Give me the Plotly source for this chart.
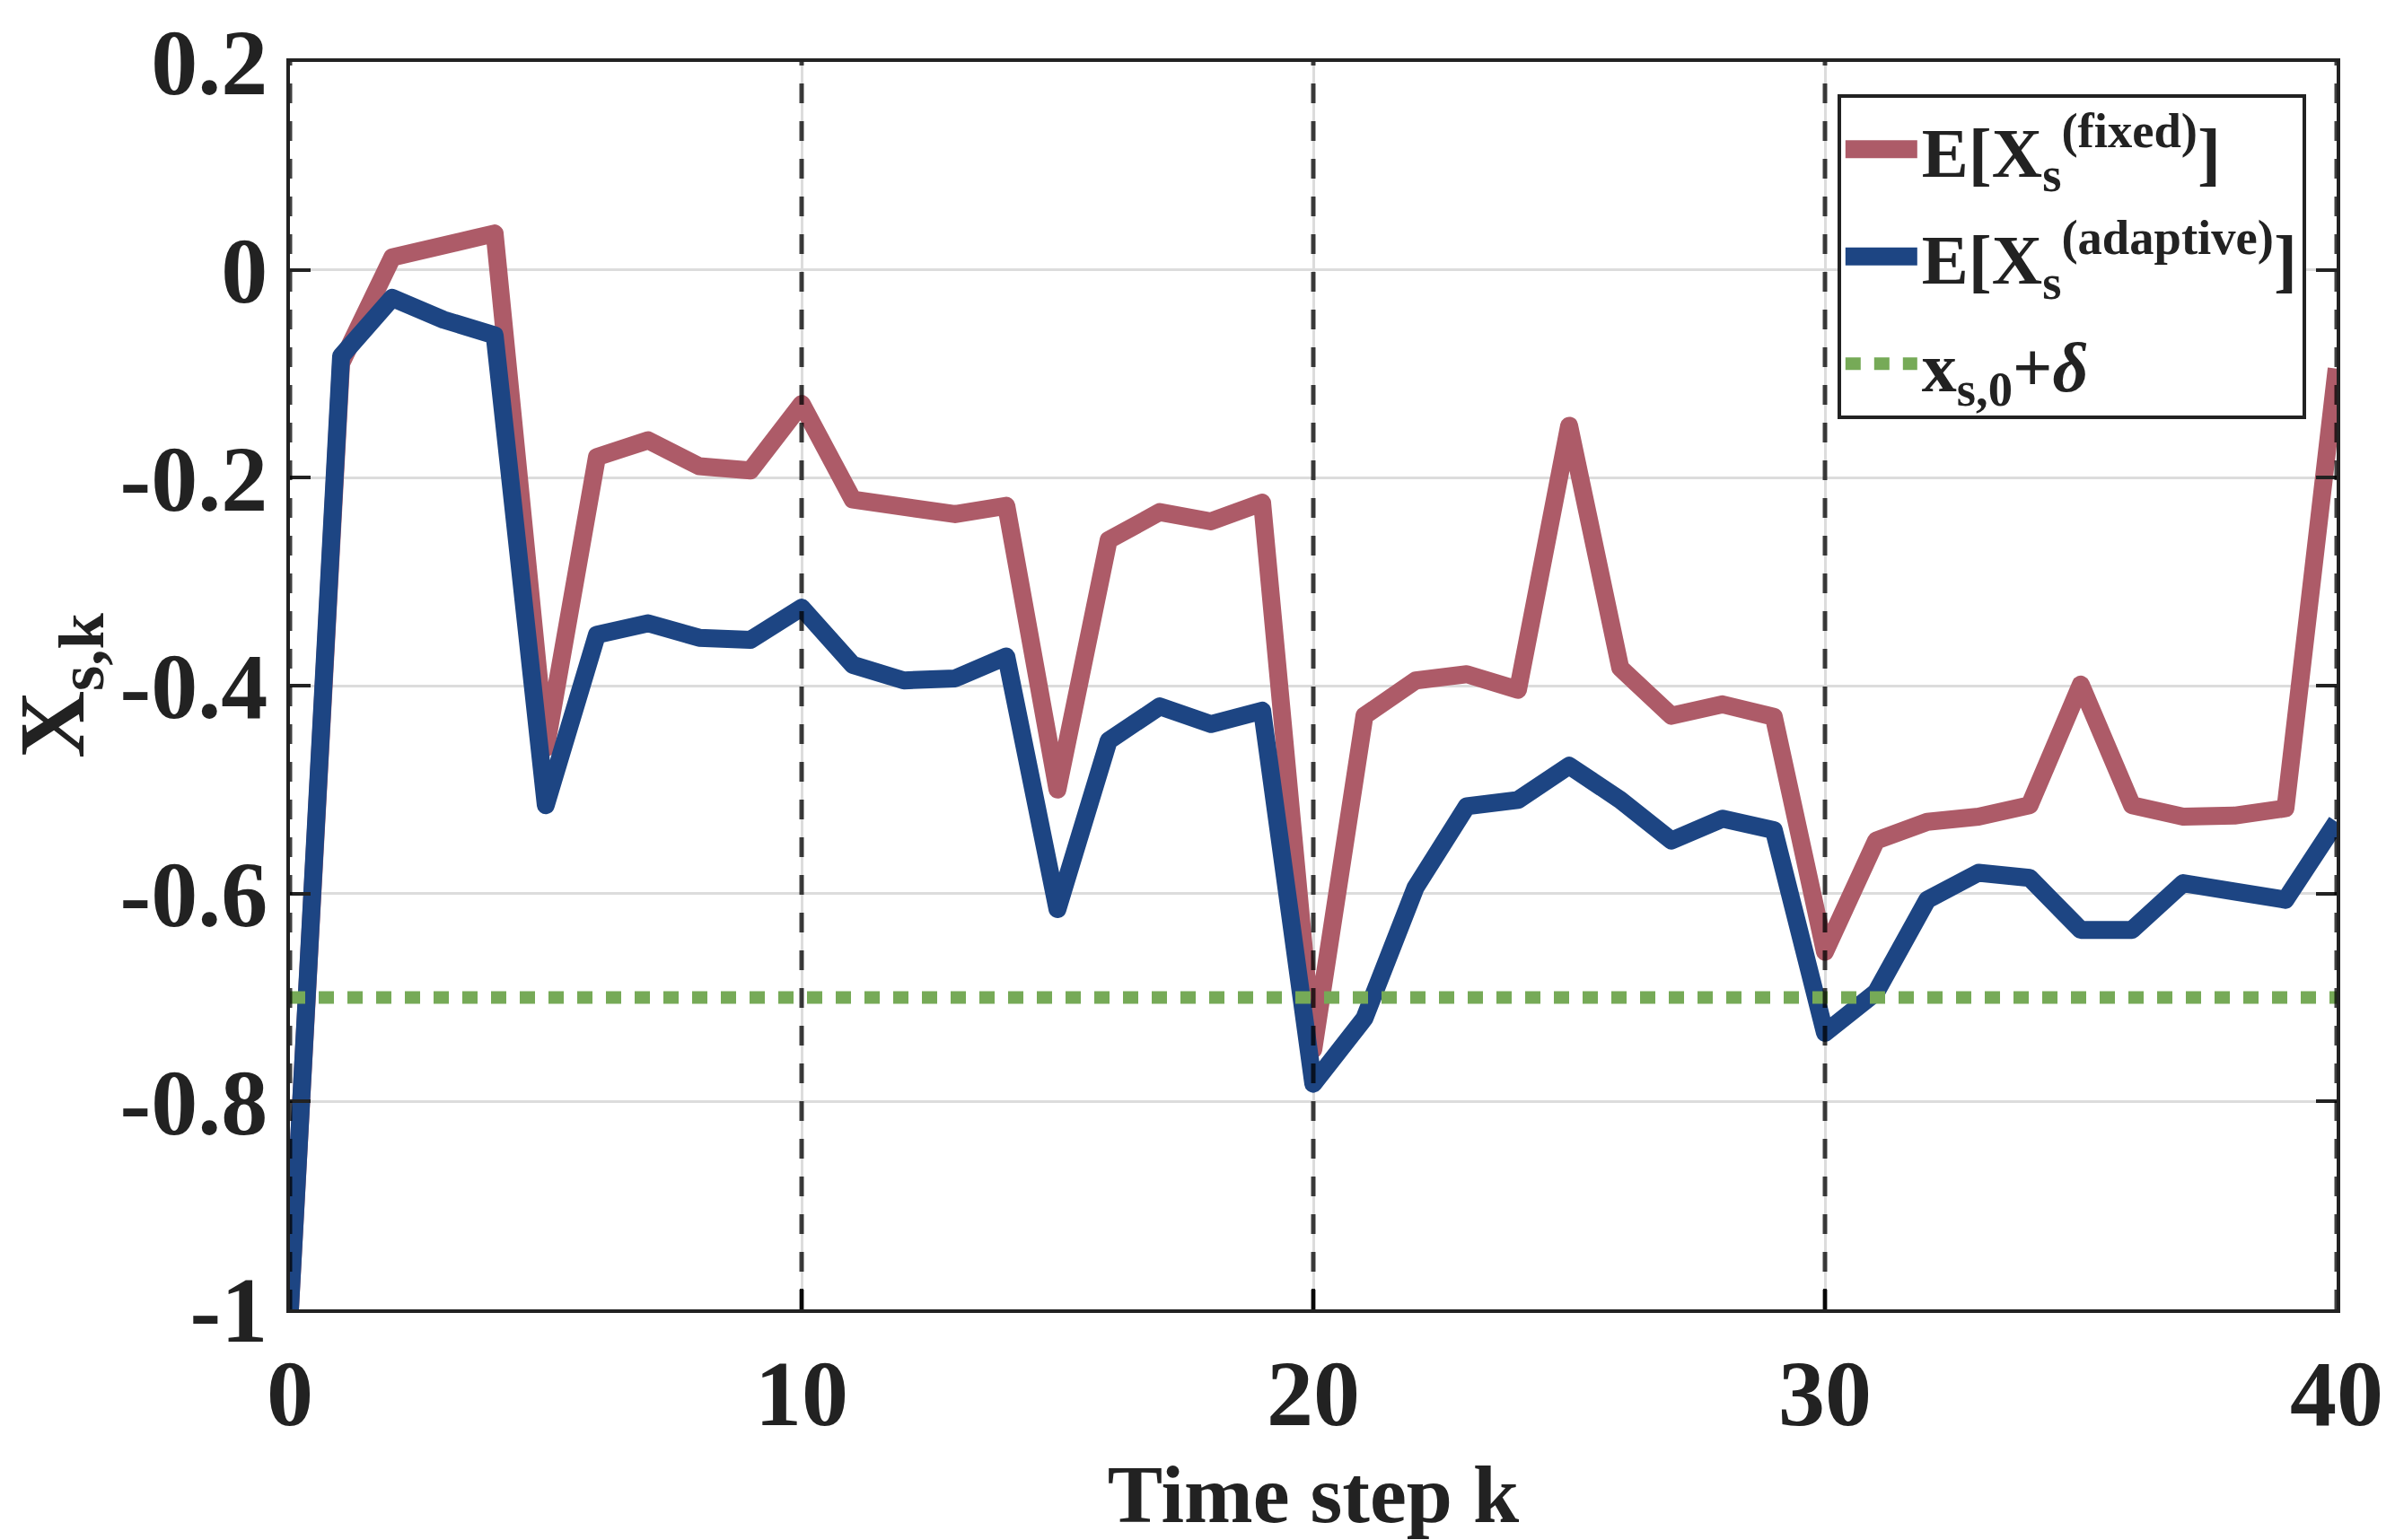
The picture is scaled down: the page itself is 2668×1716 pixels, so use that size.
import plotly.graph_objects as go

# ---------------- data ----------------
k_steps = list(range(0, 41))

x_fixed = [-1.0, -0.09, 0.012, 0.022, 0.035, -0.46, -0.18, -0.164, -0.189, -0.193,
           -0.129, -0.221, -0.226, -0.235, -0.227, -0.50, -0.26, -0.233, -0.242, -0.224,
           -0.75, -0.429, -0.395, -0.389, -0.404, -0.15, -0.383, -0.429, -0.418, -0.43,
           -0.656, -0.549, -0.531, -0.526, -0.515, -0.399, -0.515, -0.526, -0.525, -0.518,
           -0.095]

x_adaptive = [-1.0, -0.083, -0.027, -0.048, -0.063, -0.515, -0.351, -0.340, -0.354, -0.356,
              -0.325, -0.380, -0.395, -0.393, -0.372, -0.615, -0.453, -0.420, -0.437, -0.424,
              -0.783, -0.72, -0.594, -0.516, -0.510, -0.477, -0.510, -0.549, -0.528, -0.539,
              -0.734, -0.695, -0.606, -0.580, -0.585, -0.635, -0.635, -0.590, -0.598, -0.606,
              -0.531]

threshold_x = [0, 40]
threshold_y = [-0.7, -0.7]

x_tickvals = [0, 10, 20, 30, 40]
x_ticktext = ["0", "10", "20", "30", "40"]
y_tickvals = [0.2, 0, -0.2, -0.4, -0.6, -0.8, -1]
y_ticktext = ["0.2", "0", "-0.2", "-0.4", "-0.6", "-0.8", "-1"]
vline_positions = [0, 10, 20, 30, 40]

names = ["E[X<sub>s</sub><sup>(fixed)</sup>]",
         "E[X<sub>s</sub><sup>(adaptive)</sup>]",
         "x<sub>s,0</sub>+<i>δ</i>"]

# ---------------- style ----------------
RED = "#AD5B68"
BLUE = "#1D4583"
GREEN = "#76AA57"
INK = "#222222"
FONT = "Liberation Serif"

fig = go.Figure()
fig.add_trace(go.Scatter(x=k_steps, y=x_fixed, mode="lines", name=names[0],
                         legendgroup="g1",
                         line=dict(color=RED, width=20)))
fig.add_trace(go.Scatter(x=k_steps, y=x_adaptive, mode="lines", name=names[1],
                         legendgroup="g2",
                         line=dict(color=BLUE, width=20)))
fig.add_trace(go.Scatter(x=threshold_x, y=threshold_y, mode="lines", name=names[2],
                         legendgroup="g3",
                         line=dict(color=GREEN, width=14, dash="17px,15px")))

for xv in vline_positions:
    fig.add_shape(type="line", xref="x", yref="paper", x0=xv, x1=xv, y0=0, y1=1,
                  line=dict(color="rgba(0,0,0,0.75)", width=5, dash="22px,20px"),
                  layer="above")

fig.update_layout(
    width=2668, height=1716, autosize=False,
    margin=dict(l=323, r=65, t=68, b=249),
    paper_bgcolor="white", plot_bgcolor="white",
    font=dict(family=FONT, color=INK, weight="bold"),
    legend=dict(
        x=0.985, y=0.974, xanchor="right", yanchor="top",
        bgcolor="white", bordercolor=INK, borderwidth=4,
        font=dict(family=FONT, size=78, color=INK, weight="bold"),
        itemwidth=80, tracegroupgap=15,
    ),
    xaxis=dict(
        range=[0, 40], tickvals=x_tickvals, ticktext=x_ticktext,
        showline=True, linecolor=INK, linewidth=4, mirror=True,
        ticks="inside", ticklen=23, tickwidth=4, tickcolor=INK,
        showgrid=True, gridcolor="#dcdcdc", gridwidth=3, zeroline=False,
        tickfont=dict(family=FONT, size=104, color=INK, weight="bold"),
        title=dict(text="Time step k", standoff=30,
                   font=dict(family=FONT, size=92, color=INK, weight="bold")),
    ),
    yaxis=dict(
        range=[-1, 0.2], tickvals=y_tickvals, ticktext=y_ticktext,
        showline=True, linecolor=INK, linewidth=4, mirror="ticks",
        ticks="inside", ticklen=23, tickwidth=4, tickcolor=INK,
        showgrid=True, gridcolor="#dcdcdc", gridwidth=3, zeroline=False,
        tickfont=dict(family=FONT, size=104, color=INK, weight="bold"),
        title=dict(text="X<sub>s,k</sub>", standoff=32,
                   font=dict(family=FONT, size=104, color=INK, weight="bold")),
    ),
)

# Plotly caps legend line widths; restore the traces' own widths in the legend
# and use round joins for the data lines.
post_js = """
var gd = document.getElementById('{plot_id}');
function fixStyles(){
  var items = gd.querySelectorAll('.legend .traces');
  items.forEach(function(t, i){
    var w = gd.data[i] && gd.data[i].line ? gd.data[i].line.width : null;
    if (w) {
      t.querySelectorAll('path.js-line').forEach(function(p){
        p.style.strokeWidth = w + 'px';
      });
    }
  });
  gd.querySelectorAll('.scatterlayer path.js-line').forEach(function(p){
    p.style.strokeLinejoin = 'round';
  });
}
fixStyles();
gd.on('plotly_afterplot', fixStyles);
"""

fig.write_html("out.html", post_script=post_js)
